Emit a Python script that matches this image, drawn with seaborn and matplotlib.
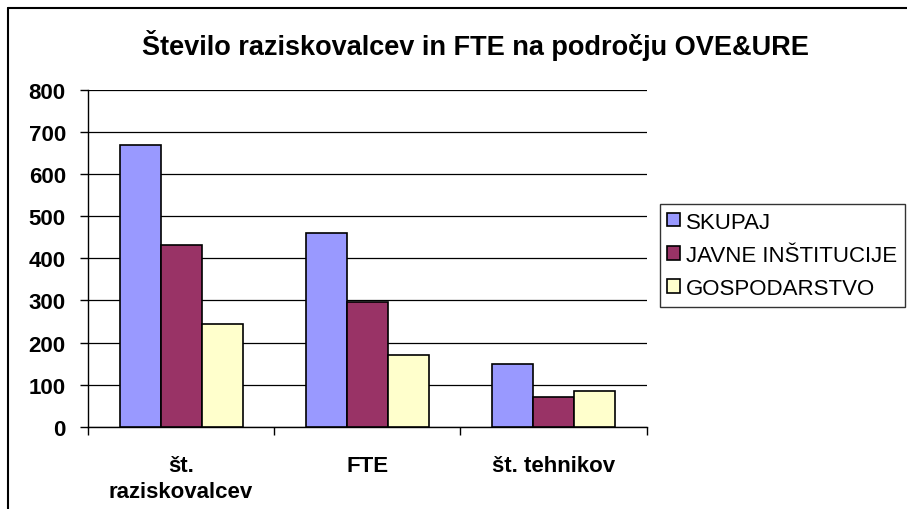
import pandas as pd
import numpy as np
import matplotlib
matplotlib.use('Agg')
import matplotlib.pyplot as plt
import seaborn as sns
from matplotlib.lines import Line2D

categories = ['št.\nraziskovalcev', 'FTE', 'št. tehnikov']
series = ['SKUPAJ', 'JAVNE INŠTITUCIJE', 'GOSPODARSTVO']
skupaj = [670, 460, 150]
javne = [432, 296, 71]
gospodarstvo = [245, 170, 85]
colors = ['#9999FF', '#993366', '#FFFFCC']
y_ticks = [0, 100, 200, 300, 400, 500, 600, 700, 800]

df = pd.DataFrame({
    'kategorija': categories * 3,
    'serija': [s for s in series for _ in categories],
    'vrednost': skupaj + javne + gospodarstvo,
})

sns.set_theme(style='white')
plt.rcParams['font.family'] = ['Liberation Sans', 'DejaVu Sans']
plt.rcParams['text.color'] = 'black'
plt.rcParams['xtick.color'] = 'black'
plt.rcParams['ytick.color'] = 'black'
plt.rcParams['xtick.labelcolor'] = 'black'
plt.rcParams['ytick.labelcolor'] = 'black'

fig = plt.figure(figsize=(9.07, 5.10), dpi=100)
ax = fig.add_axes([0.097, 0.161, 0.616, 0.661])

sns.barplot(data=df, x='kategorija', y='vrednost', hue='serija',
            order=categories, hue_order=series, palette=colors,
            width=0.66, edgecolor='black', linewidth=1.2, saturation=1,
            ax=ax, zorder=3)

ax.set_ylim(0, 800)
ax.set_xlim(-0.5, 2.5)
ax.set_yticks(y_ticks)
ax.set_yticklabels([str(t) for t in y_ticks], fontsize=16, fontweight='bold', color='black')
ax.yaxis.grid(True, color='black', linewidth=0.9, zorder=0)
ax.set_axisbelow(True)
ax.tick_params(axis='y', direction='out', length=6, width=1, color='black', left=True, pad=10)
ax.tick_params(axis='x', which='major', length=0, pad=20)
ax.set_xticks([-0.5, 0.5, 1.5, 2.5], minor=True)
ax.tick_params(axis='x', which='minor', direction='out', length=6, width=1, color='black', bottom=True)
for lbl in ax.get_xticklabels():
    lbl.set_fontsize(16)
    lbl.set_fontweight('bold')
    lbl.set_color('black')
    lbl.set_linespacing(1.35)
ax.set_xlabel('')
ax.set_ylabel('')
for side in ['top', 'right']:
    ax.spines[side].set_visible(False)
for side in ['left', 'bottom']:
    ax.spines[side].set_color('black')
    ax.spines[side].set_linewidth(1)

leg = ax.legend(loc='upper left', bbox_to_anchor=(1.023, 0.662), frameon=True,
                fontsize=16, fancybox=False, handlelength=0.55, handleheight=0.55,
                handletextpad=0.3, borderpad=0.35, labelspacing=0.55, borderaxespad=0)
leg.get_frame().set_edgecolor('black')
leg.get_frame().set_linewidth(1)
for t in leg.get_texts():
    t.set_color('black')

fig.text(0.524, 0.91, 'Število raziskovalcev in FTE na področju OVE&URE',
         ha='center', va='center', fontsize=19.5, fontweight='bold', color='black')

# okvir slike (samo levo in zgoraj)
fig.add_artist(Line2D([0.0088, 0.0088], [0, 0.982], transform=fig.transFigure,
                      color='black', linewidth=1.5))
fig.add_artist(Line2D([0.0088, 1.0], [0.982, 0.982], transform=fig.transFigure,
                      color='black', linewidth=1.5))

plt.savefig('out.png', dpi=100)
